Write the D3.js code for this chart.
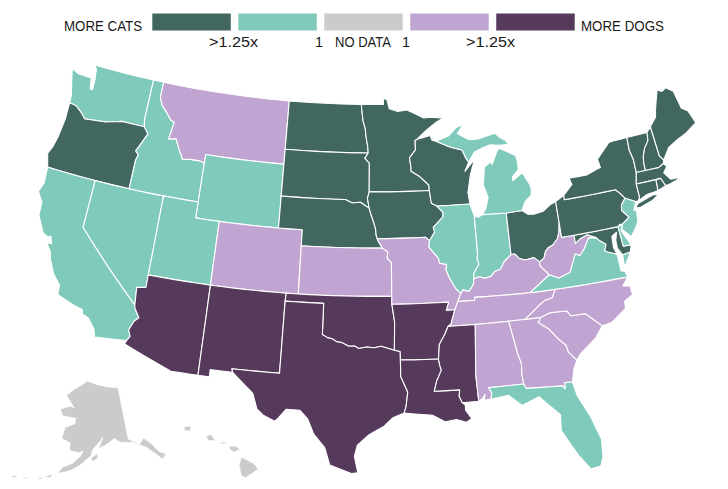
<!DOCTYPE html>
<html>
<head>
  <meta charset="utf-8">
  <title>More cats or more dogs</title>
  <script src="https://d3js.org/d3.v7.min.js"></script>
  <style>
    html, body { margin: 0; background: #fff; }
    text { font-family: "Liberation Sans", sans-serif; fill: #1a1a1a; }
  </style>
</head>
<body>
<script>
// Legend
var classes = ["cats2", "cats1", "none", "dogs1", "dogs2"];
var classColors = ["#426660", "#80cabb", "#cbcbcb", "#c0a4d1", "#553a5c"];
var legendLabels = [">1.25x", "1", "NO DATA", "1", ">1.25x"];

// Which states fall in which class
var cats2 = ["OR", "ND", "SD", "NE", "MN", "IA", "WI", "OH", "PA", "NY", "VT", "NH", "ME", "MA", "CT", "RI", "MD"];
var cats1 = ["WA", "ID", "WY", "CA", "NV", "UT", "IL", "IN", "MI", "VA", "FL", "NJ", "DE"];
var none = ["AK", "HI"];
var dogs1 = ["MT", "CO", "KS", "MO", "KY", "WV", "TN", "NC", "SC", "GA", "AL"];
var dogs2 = ["AZ", "NM", "TX", "OK", "AR", "LA", "MS"];

// Shared borders, lon/lat
var redRiver = [[-97.23,49],[-97.15,48.5],[-97.05,47.95],[-96.85,47.5],[-96.75,46.9],[-96.6,46.33],[-96.56,45.94]];
var mnSd = [[-96.56,45.94],[-96.85,45.6],[-96.45,45.3],[-96.45,43.5]];
var sdIa = [[-96.45,43.5],[-96.6,43.1],[-96.45,42.49]];
var neSd = [[-104.05,43],[-98.5,43],[-97.9,42.8],[-97.2,42.85],[-96.7,42.6],[-96.45,42.49]];
var neIa = [[-96.45,42.49],[-96.25,42.0],[-96.1,41.7],[-95.9,41.2],[-95.85,40.8],[-95.77,40.585]];
var neMo = [[-95.77,40.585],[-95.55,40.25],[-95.31,40]];
var ksMo = [[-95.31,40],[-94.9,39.75],[-94.95,39.35],[-94.61,39.11],[-94.62,37]];
var iaMo = [[-95.77,40.585],[-91.72,40.6],[-91.42,40.38]];
var mnWi = [[-92.1,46.75],[-92.29,46.66],[-92.29,46.08],[-92.85,45.6],[-92.75,45],[-92.75,44.75],[-92,44.4],[-91.25,43.85],[-91.22,43.5]];
var iaWi = [[-91.22,43.5],[-91.15,43],[-91.1,42.7],[-90.64,42.51]];
var iaIl = [[-90.64,42.51],[-90.15,42.1],[-90.2,41.8],[-91.05,41.2],[-90.95,40.9],[-91.42,40.38]];
var moIl = [[-91.42,40.38],[-91.5,40],[-90.75,39.25],[-90.7,38.95],[-90.12,38.85],[-90.2,38.5],[-89.9,37.9],[-89.5,37.3],[-89.13,36.98]];
var moKy = [[-89.13,36.98],[-89.42,36.5]];
var moTn = [[-89.42,36.5],[-89.7,36]];
var arTn = [[-89.7,36],[-90.07,35.13],[-90.3,35]];
var arMs = [[-90.3,35],[-90.6,34.5],[-91.05,33.9],[-91.17,33]];
var laMs = [[-91.17,33],[-91.1,32.6],[-91,32.3],[-91.4,31.6],[-91.6,31],[-89.73,31],[-89.8,30.6],[-89.6,30.18]];
var bootheel = [[-89.7,36],[-90.37,36],[-90.15,36.5],[-94.62,36.5]];
var ilKy = [[-89.13,36.98],[-88.95,37.2],[-88.48,37.07],[-88.07,37.5],[-88.03,37.8]];
var ilIn = [[-87.53,41.71],[-87.53,39.35],[-87.6,39.1],[-87.5,38.7],[-87.95,38.2],[-88.03,37.8]];
var inKy = [[-88.03,37.8],[-87.6,37.93],[-87.1,37.8],[-86.6,37.9],[-86.3,38.15],[-85.8,38.28],[-85.42,38.73],[-84.82,39.1]];
var ohKy = [[-84.82,39.1],[-84.5,39.1],[-84.2,38.8],[-83.7,38.65],[-83,38.73],[-82.6,38.42]];
var ohWv = [[-82.6,38.42],[-82.2,38.6],[-82,39],[-81.75,39.2],[-81.3,39.35],[-80.85,39.7],[-80.65,40.1],[-80.52,40.64]];
var wiMi = [[-90.4,46.57],[-89.1,46.13],[-88.1,45.9],[-87.8,45.35],[-87.6,45.1]];
var colorado = [[-114.63,35],[-114.57,34.8],[-114.13,34.27],[-114.45,34],[-114.72,33.4],[-114.52,33.03],[-114.72,32.72]];
var redRiverTx = [[-100,34.56],[-99.6,34.38],[-99.2,34.3],[-98.9,34.15],[-98.5,34.1],[-97.95,33.88],[-97.5,33.9],[-97.2,33.75],[-96.6,33.85],[-96,33.8],[-95.5,33.9],[-94.48,33.64]];
var txLa = [[-94.04,33.55],[-94.04,32],[-93.55,31],[-93.7,30.1],[-93.85,29.7]];
var mtId = [[-116.05,49],[-116.05,48],[-115.7,47.5],[-115.3,47.25],[-114.7,46.75],[-114.35,46.65],[-114.55,45.55],[-113.9,45.65],[-113.5,45.1],[-113,44.45],[-112.3,44.55],[-111.5,44.55],[-111.05,44.47]];
var orId = [[-117.03,42],[-117.03,43.8],[-116.9,44.2],[-117.2,44.4],[-116.85,44.95],[-116.46,45.6],[-116.92,45.99]];
var columbia = [[-116.92,45.99],[-118.98,46],[-119.3,45.93],[-120.5,45.7],[-121.2,45.65],[-122.3,45.55],[-122.8,45.9],[-123.4,46.2],[-124,46.25]];
var wvVa = [[-77.72,39.32],[-78.35,39.4],[-78.87,38.77],[-79.3,38.42],[-79.65,38.58],[-80.3,37.5],[-81.25,37.25],[-81.97,37.54]];
var potomac = [[-76.33,38.05],[-77,38.3],[-77.25,38.4],[-77.04,38.8],[-77.5,39.1],[-77.72,39.32]];
var mdWv = [[-77.72,39.32],[-78.4,39.6],[-79,39.45],[-79.48,39.2],[-79.48,39.72]];
var tnNc = [[-81.68,36.59],[-82,36.1],[-82.6,36],[-83.1,35.75],[-84.32,34.99]];
var scGa = [[-80.87,32.03],[-81.4,32.6],[-81.5,33.05],[-82,33.5],[-82.6,34.2],[-83.35,34.7],[-83.11,35]];
var ncSc = [[-78.55,33.86],[-79.67,34.8],[-80.8,34.82],[-81.05,35.15],[-82.3,35.2],[-83.11,35]];
var alGa = [[-85.6,35],[-85.18,32.87],[-85,32.3],[-85.06,31.55],[-85,31]];
var flGa = [[-85,31],[-84.86,30.71],[-82.21,30.57],[-82.05,30.36],[-82,30.75],[-81.45,30.72]];
var vtNh = [[-71.5,45.01],[-71.6,44.5],[-72.05,44.1],[-72.35,43.6],[-72.45,43.2],[-72.46,42.73]];
var nyVt = [[-73.35,45.01],[-73.4,44.2],[-73.25,43.6],[-73.27,42.75]];
var nyNj = [[-74.7,41.36],[-73.9,41]];
var paNy = [[-79.76,42],[-75.35,42],[-75.05,41.75],[-74.7,41.36]];
var paNj = [[-74.7,41.36],[-75.13,40.97],[-75.2,40.65],[-74.72,40.15],[-75.42,39.8]];
var nhMe = [[-71.08,45.3],[-70.98,43.4],[-70.7,43.08]];

function rev(a) { return a.slice().reverse(); }

// State outlines, one list of rings per state
var outlines = {
  WA: [[[-124.7,48.38],[-124,48.17],[-123.2,48.15],[-122.75,48.15],[-122.55,47.45],[-122.35,47.45],[-122.35,48],[-122.5,48.75],[-122.75,49],[-117.03,49],[-117.04,46.42],[-116.92,45.99],...columbia.slice(1),[-124.05,46.7],[-124.15,47],[-124.4,47.6]]],
  OR: [[[-124.55,42.84],[-124.2,42],[-117.03,42],...orId.slice(1),...columbia.slice(1),[-123.95,45.2],[-124.1,44],[-124.3,43.3]]],
  CA: [[[-124.2,42],[-120,42],[-120,39],[-114.63,35],...colorado.slice(1),[-117.12,32.53],[-117.3,33],[-117.9,33.6],[-118.4,33.75],[-118.5,34.03],[-119.2,34.15],[-120.6,34.55],[-120.65,35.15],[-121.3,35.7],[-121.9,36.6],[-122,36.95],[-122.5,37.5],[-122.1,37.5],[-122.35,37.95],[-122.5,37.82],[-123,38],[-123.75,39],[-123.8,39.8],[-124.35,40.4],[-124.1,41]]],
  NV: [[[-120,42],[-114.04,42],[-114.04,36.2],[-114.75,36.1],[-114.63,35],[-120,39]]],
  ID: [[[-117.03,49],...mtId,[-111.05,42],[-117.03,42],...orId.slice(1),[-117.04,46.42]]],
  MT: [[...mtId,[-111.05,45],[-104.05,45],[-104.05,49]]],
  WY: [[[-111.05,45],[-104.05,45],[-104.05,41],[-111.05,41]]],
  UT: [[[-114.04,42],[-111.05,42],[-111.05,41],[-109.05,41],[-109.05,37],[-114.05,37]]],
  CO: [[[-109.05,41],[-102.05,41],[-102.04,37],[-109.05,37]]],
  AZ: [[[-114.05,37],[-109.05,37],[-109.05,31.33],[-111.07,31.33],[-114.81,32.5],...rev(colorado),[-114.75,36.1],[-114.04,36.2]]],
  NM: [[[-109.05,37],[-103,37],[-103.04,36.5],[-103.06,32],[-106.62,32],[-106.53,31.78],[-108.21,31.78],[-108.21,31.33],[-109.05,31.33]]],
  ND: [[[-104.05,49],...redRiver,[-104.05,45.94]]],
  SD: [[[-104.05,45.94],...mnSd,...sdIa.slice(1),...rev(neSd).slice(1)]],
  NE: [[...neSd,...neIa.slice(1),...neMo.slice(1),[-102.05,40],[-102.05,41],[-104.05,41]]],
  KS: [[[-102.05,40],...ksMo,[-102.04,37]]],
  OK: [[[-103,37],[-94.62,37],[-94.62,36.5],[-94.43,35.4],...rev(redRiverTx),[-100,36.5],[-103.04,36.5]]],
  TX: [[[-106.62,32],[-103.06,32],[-103.04,36.5],[-100,36.5],...redRiverTx,...txLa,[-94.7,29.4],[-95.3,28.9],[-96.4,28.35],[-97.2,27.7],[-97.4,27],[-97.15,25.96],[-97.6,25.9],[-99.1,26.4],[-99.5,27.5],[-100.3,28.3],[-100.8,29.25],[-101.4,29.77],[-102.4,29.77],[-102.9,29.2],[-103.15,28.98],[-104,29.3],[-104.5,29.65],[-104.9,30.6],[-106.53,31.78]]],
  MN: [[...redRiver.slice(0,1),[-95.15,49],[-95.15,49.38],[-94.82,49.32],[-94.6,48.72],[-93.8,48.55],[-92.95,48.62],[-92,48.3],[-91.4,48.07],[-90.75,48.1],[-89.6,48],[-90.3,47.75],[-91.3,47.25],...mnWi,[-96.45,43.5],...rev(mnSd).slice(1),...rev(redRiver).slice(1)]],
  IA: [[[-96.45,43.5],[-91.22,43.5],...iaWi.slice(1),...iaIl.slice(1),...rev(iaMo).slice(1),...rev(neIa).slice(1),...rev(sdIa).slice(1)]],
  MO: [[...iaMo,...moIl.slice(1),...moKy.slice(1),...moTn.slice(1),...bootheel.slice(1),[-94.62,37],...rev(ksMo).slice(1),...rev(neMo).slice(1)]],
  AR: [[...rev(bootheel),...arTn.slice(1),...arMs.slice(1),[-94.04,33.02],[-94.04,33.55],[-94.48,33.64],[-94.43,35.4]]],
  LA: [[[-94.04,33.02],...laMs,[-89.4,30.05],[-89.4,29.7],[-89,29.15],[-89.4,28.95],[-90.1,29.15],[-90.9,29.05],[-91.8,29.5],[-92.3,29.55],[-93.85,29.7],[-93.7,30.1],[-93.55,31],[-94.04,32]]],
  WI: [[...mnWi,...iaWi.slice(1),[-87.8,42.49],[-87.9,43.2],[-87.55,44.3],[-87.05,45.25],[-87.6,44.85],[-88,44.55],[-87.6,45.1],...rev(wiMi).slice(1),[-90.75,46.65],[-90.9,46.95]]],
  IL: [[[-90.64,42.51],[-87.8,42.49],...ilIn,...rev(ilKy).slice(1),...rev(moIl).slice(1),...rev(iaIl).slice(1)]],
  IN: [[...ilIn,...inKy.slice(1),[-84.81,41.7],[-84.8,41.76],[-86.82,41.76],[-87.2,41.62]]],
  OH: [[[-84.81,41.7],[-83.45,41.73],[-83,41.45],[-82.5,41.4],[-81.7,41.5],[-81,41.85],[-80.52,41.98],...rev(ohWv),...rev(ohKy).slice(1)]],
  MI: [
    [[-86.82,41.76],[-86.5,42.1],[-86.2,42.8],[-86.5,43.6],[-86.25,44.7],[-85.6,45],[-85.55,44.8],[-85,45.6],[-84.75,45.78],[-83.4,45.2],[-83.3,44.9],[-83.3,44.3],[-83.9,43.9],[-83.9,43.65],[-83,44.07],[-82.5,43.3],[-82.42,43],[-82.5,42.6],[-83.1,42.25],[-83.45,41.73],[-84.8,41.7]],
    [[-90.4,46.57],[-89.2,46.85],[-88.45,47.35],[-87.8,47.47],[-88.4,46.95],[-87.4,46.5],[-86.5,46.5],[-85,46.75],[-84.6,46.45],[-84.1,46.2],[-83.9,45.95],[-84.7,45.95],[-85.5,46.05],[-86.3,45.9],[-87,45.7],[-87.6,45.1],...rev(wiMi).slice(1)]
  ],
  KY: [[...moKy.slice(1),[-88.07,36.5],[-88.07,36.68],[-83.68,36.6],[-81.97,37.54],[-82.6,38.17],[-82.6,38.42],...rev(ohKy).slice(1),...rev(inKy).slice(1),...rev(ilKy).slice(1)]],
  TN: [[[-89.7,36],[-89.42,36.5],[-88.07,36.5],[-88.07,36.68],[-83.68,36.6],...tnNc,[-90.3,35],[-90.07,35.13]]],
  MS: [[...arMs,...laMs.slice(1),[-88.4,30.2],[-88.47,31.9],[-88.2,35]]],
  AL: [[[-88.2,35],...alGa,[-87.6,31],[-87.4,30.65],[-87.5,30.28],[-88,30.23],[-87.9,30.6],[-88.1,30.35],[-88.4,30.2],[-88.47,31.9]]],
  GA: [[[-83.11,35],...alGa,...flGa.slice(1),[-81.2,31.5],...scGa]],
  FL: [[[-87.6,31],...flGa,[-81.25,29.8],[-80.55,28.4],[-80.05,26.9],[-80.15,25.75],[-80.4,25.2],[-81.1,25.13],[-81.8,26.1],[-82.2,26.8],[-82.75,27.8],[-82.65,28.8],[-83.4,29.5],[-84,30.1],[-85.3,29.68],[-86.2,30.4],[-87.5,30.28],[-87.4,30.65]]],
  SC: [[...ncSc,...rev(scGa).slice(1),[-80.5,32.4],[-79.2,33.2]]],
  NC: [[...tnNc.slice(0,1),[-75.87,36.55],[-76.4,36.05],[-75.85,35.95],[-75.8,35.4],[-76.5,35.1],[-76.55,34.65],[-77.8,33.95],...ncSc,[-84.32,34.99],...rev(tnNc).slice(1,-1)]],
  VA: [
    [...potomac,...wvVa.slice(1),[-83.68,36.6],[-81.68,36.59],[-75.87,36.55],[-76,36.9],[-76.3,37],[-76.3,37.55]],
    [[-75.24,38.03],[-75.9,37.95],[-75.95,37.15]]
  ],
  WV: [[[-80.52,40.64],[-80.52,39.72],...rev(mdWv),...wvVa.slice(1),[-82.6,38.17],...ohWv]],
  MD: [[[-79.48,39.72],[-75.79,39.72],[-75.7,38.46],[-75.05,38.45],[-75.24,38.03],[-75.9,37.95],[-76.2,38.4],[-76.2,38.9],[-76,39.4],[-76.45,39.2],[-76.5,38.5],[-76.33,38.05],...potomac.slice(1),...mdWv.slice(1)]],
  DE: [[[-75.79,39.72],[-75.42,39.8],[-75.6,39.45],[-75.4,39.05],[-75.05,38.45],[-75.7,38.46]]],
  PA: [[[-80.52,41.98],[-79.76,42.27],...paNy,...paNj.slice(1),[-75.6,39.84],[-75.79,39.72],[-80.52,39.72],[-80.52,40.64]]],
  NJ: [[...nyNj,[-74.2,40.5],[-74,40.45],[-74.1,39.75],[-74.4,39.4],[-74.9,38.93],[-75.5,39.5],[-75.42,39.8],...rev(paNj).slice(1)]],
  NY: [
    [[-79.76,42.27],[-78.9,42.85],[-79.05,43.27],[-77.5,43.27],[-76.5,43.5],[-76.2,43.55],[-76.3,44.1],[-75,44.97],[-74.7,45],...nyVt,[-73.5,42.05],[-73.49,41.2],[-73.65,41],[-73.9,41],[-74.7,41.36],...rev(paNy).slice(1)],
    [[-74.03,40.6],[-73.75,40.85],[-72.3,41.15],[-71.9,41.07],[-72.5,40.82],[-73.6,40.58]]
  ],
  VT: [[...nyVt,...rev(vtNh)]],
  NH: [[...vtNh,[-71.3,42.7],[-70.82,42.87],[-70.7,43.08],[-70.98,43.4],[-71.08,45.3]]],
  ME: [[...nhMe,[-70,43.75],[-69,44.1],[-68.2,44.3],[-67.1,44.75],[-67.45,45.6],[-67.95,45.9],[-68.2,47.05],[-68.8,47.4],[-69.2,47.25],[-69.6,47.42],[-70,46.7],[-70.25,46.2],[-70.4,45.8]]],
  MA: [[[-73.27,42.75],[-72.46,42.73],[-71.3,42.7],[-70.82,42.87],[-70.6,42.65],[-71,42.3],[-70.55,41.8],[-70,41.78],[-70.05,42.05],[-69.95,41.68],[-70.65,41.55],[-71.12,41.5],[-71.38,41.9],[-71.38,42.02],[-71.8,42.02],[-73.5,42.05]]],
  RI: [[[-71.8,42.02],[-71.38,42.02],[-71.12,41.5],[-71.86,41.32]]],
  CT: [[[-73.5,42.05],[-71.8,42.02],[-71.86,41.32],[-72.9,41.25],[-73.65,41],[-73.49,41.2]]],
  AK: [
    [[-141,69.65],[-141,60.3],[-137.5,58.9],[-135.5,59.8],[-133.5,58.5],[-131.8,56.6],[-130,55.9],[-131.5,55.2],[-133,56.5],[-135.5,58.2],[-139.7,59.6],[-144,60],[-146,60.8],[-148.5,60],[-151.8,59.2],[-150,61.2],[-153,59.6],[-154,59],[-154.5,58],[-156.5,57],[-158.5,56],[-161,55.1],[-164.8,54.3],[-163.5,55.5],[-160.5,56.4],[-158,57.8],[-157.2,58.8],[-158.8,58.4],[-162,58.7],[-162,60],[-165.3,60.6],[-164.7,62.6],[-161,63.5],[-161,64.5],[-166.5,64.6],[-168,65.65],[-164,66.5],[-162,66.3],[-163.5,67],[-166.5,68.35],[-163,69.7],[-156.7,71.35],[-150,70.5]],
    [[-154.5,57.5],[-152.4,58.3],[-152.2,57.6],[-153.8,56.9]],
    [[-168.4,53.2],[-166.3,54],[-166.7,53.3]],
    [[-170.4,52.6],[-169,53.1],[-169.5,52.6]],
    [[-174.5,52],[-172.8,52.4],[-174,51.9]],
    [[-177.8,51.8],[-176,52],[-177,51.5]]
  ],
  HI: [
    [[-155.9,20.25],[-155.1,19.85],[-154.8,19.5],[-155.65,18.95],[-155.9,19.1],[-156.05,19.75]],
    [[-156.7,20.95],[-156.3,20.95],[-156,20.75],[-156.4,20.58],[-156.7,20.8]],
    [[-157.3,21.2],[-156.75,21.18],[-157.2,21.08]],
    [[-158.25,21.55],[-157.95,21.7],[-157.65,21.3],[-158.1,21.3]],
    [[-159.75,22.15],[-159.3,22.2],[-159.35,21.9],[-159.7,21.95]]
  ]
};

var width = 728, height = 489;

var svg = d3.select("body").append("svg")
  .attr("width", width)
  .attr("height", height)
  .style("display", "block");

// Long straight borders follow parallels, so add points between the corners
function densify(ring) {
  var out = [];
  ring.forEach(function(p, i) {
    var q = ring[(i + 1) % ring.length];
    var n = Math.ceil(Math.max(Math.abs(q[0] - p[0]), Math.abs(q[1] - p[1])));
    for (var k = 0; k < n; k++) out.push([p[0] + (q[0] - p[0]) * k / n, p[1] + (q[1] - p[1]) * k / n]);
  });
  out.push(out[0]);
  return out;
}

function toFeature(rings) {
  var polys = rings.map(function(r) {
    var ring = densify(r);
    if (d3.geoArea({type: "Polygon", coordinates: [ring]}) > 2 * Math.PI) ring.reverse();
    return [ring];
  });
  return {type: "MultiPolygon", coordinates: polys};
}

var projection = d3.geoAlbersUsa().scale(913).translate([367, 269]);
var path = d3.geoPath(projection);

var color = d3.scaleOrdinal().domain(classes).range(classColors);
var classOf = {};
[cats2, cats1, none, dogs1, dogs2].forEach(function(list, i) {
  list.forEach(function(s) { classOf[s] = classes[i]; });
});

svg.append("g").selectAll("path")
  .data(Object.keys(outlines))
  .enter().append("path")
  .attr("d", function(s) { return path(toFeature(outlines[s])); })
  .attr("fill", function(s) { return color(classOf[s]); })
  .attr("stroke", "#fff")
  .attr("stroke-width", function(s) { return classOf[s] === "none" ? 0.4 : 1.1; })
  .attr("stroke-linejoin", "round");

// Legend
var legendX = d3.scaleBand().domain(classes).range([152.3, 574.7]).paddingInner(0.0875);

svg.append("g").selectAll("rect")
  .data(classes)
  .enter().append("rect")
  .attr("x", function(d) { return legendX(d); })
  .attr("y", 13.5)
  .attr("width", legendX.bandwidth())
  .attr("height", 17)
  .attr("fill", function(d) { return color(d); });

// The narrow legend type is squeezed to the reference's widths
function label(x, y, w, size, str) {
  var t = svg.append("text")
    .attr("x", x).attr("y", y)
    .style("font-size", size + "px")
    .text(str);
  if (w) t.attr("textLength", w).attr("lengthAdjust", "spacingAndGlyphs");
}

label(64, 30.5, 78, 15.5, "MORE CATS");
label(581, 30.5, 83, 15.5, "MORE DOGS");

var labelX = [209, 315, 335, 402, 466];
var labelW = [49, 0, 56, 0, 49];
legendLabels.forEach(function(d, i) {
  label(labelX[i], 47.3, labelW[i], 14.5, d);
});
</script>
</body>
</html>
